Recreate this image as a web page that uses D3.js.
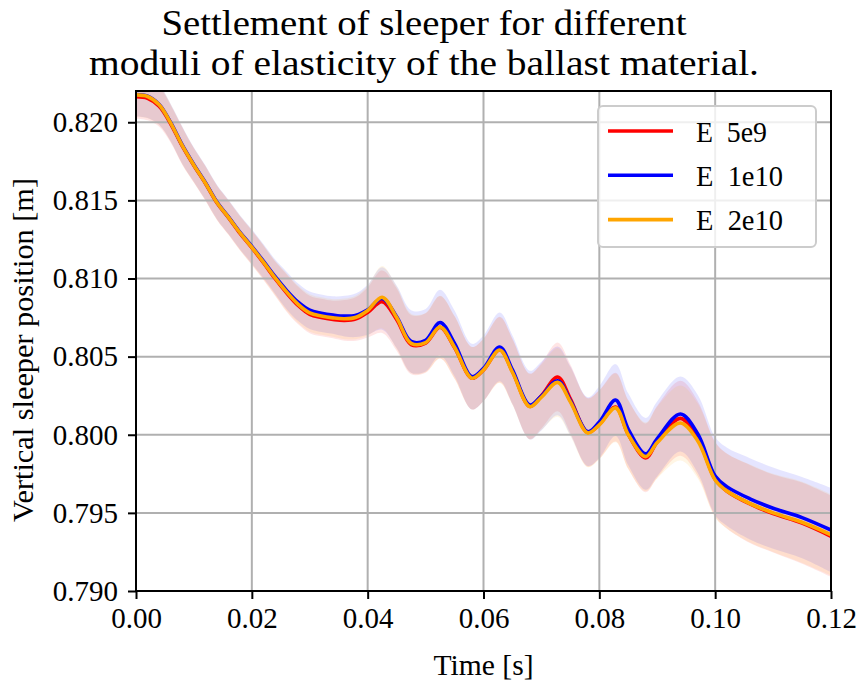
<!DOCTYPE html>
<html>
<head>
<meta charset="utf-8">
<script src="https://cdn.jsdelivr.net/npm/d3@7"></script>
<style>
  body { margin: 0; background: #fff; }
</style>
</head>
<body>
<div class="chart-container"></div>
<script>
// --------------------------------------------------------
// DATA
// --------------------------------------------------------
const time = [0.000, 0.002, 0.004, 0.006, 0.008, 0.010, 0.012, 0.014, 0.016, 0.018,
  0.020, 0.022, 0.024, 0.026, 0.028, 0.030, 0.032, 0.034, 0.036, 0.038,
  0.040, 0.0425, 0.045, 0.0475, 0.050, 0.0525, 0.055, 0.058, 0.060, 0.0628,
  0.065, 0.068, 0.070, 0.0728, 0.075, 0.078, 0.080, 0.0828, 0.085, 0.088,
  0.090, 0.094, 0.097, 0.100, 0.102, 0.106, 0.110, 0.115, 0.120];

// E = 5e9
const meanE5e9 = [0.82163, 0.82153, 0.82102, 0.81989, 0.81847, 0.81723, 0.81608, 0.81483, 0.81388, 0.81287,
  0.81197, 0.81101, 0.81000, 0.80908, 0.80827, 0.80770, 0.80750, 0.80738, 0.80732, 0.80742,
  0.80783, 0.80852, 0.80738, 0.80577, 0.80587, 0.80688, 0.80558, 0.80362, 0.80415, 0.80545,
  0.80405, 0.80182, 0.80250, 0.80370, 0.80230, 0.80015, 0.80066, 0.80177, 0.80002, 0.79852,
  0.79955, 0.80105, 0.79975, 0.79715, 0.79640, 0.79557, 0.79496, 0.79434, 0.79350];

// E = 1e10
const meanE1e10 = [0.82177, 0.82167, 0.82114, 0.81997, 0.81853, 0.81728, 0.81613, 0.81488, 0.81393, 0.81294,
  0.81205, 0.81111, 0.81013, 0.80924, 0.80848, 0.80797, 0.80778, 0.80766, 0.80759, 0.80765,
  0.80800, 0.80872, 0.80755, 0.80597, 0.80605, 0.80718, 0.80585, 0.80372, 0.80425, 0.80562,
  0.80415, 0.80190, 0.80248, 0.80345, 0.80218, 0.80020, 0.80081, 0.80222, 0.80035, 0.79878,
  0.79975, 0.80133, 0.80005, 0.79735, 0.79668, 0.79590, 0.79530, 0.79470, 0.79390];

// E = 2e10
const meanE2e10 = [0.82175, 0.82165, 0.82112, 0.81995, 0.81850, 0.81725, 0.81610, 0.81485, 0.81390, 0.81290,
  0.81200, 0.81105, 0.81005, 0.80914, 0.80835, 0.80780, 0.80760, 0.80748, 0.80742, 0.80752,
  0.80795, 0.80880, 0.80750, 0.80585, 0.80590, 0.80690, 0.80560, 0.80362, 0.80415, 0.80542,
  0.80400, 0.80180, 0.80240, 0.80335, 0.80210, 0.80012, 0.80063, 0.80172, 0.80000, 0.79860,
  0.79950, 0.80075, 0.79960, 0.79710, 0.79640, 0.79560, 0.79500, 0.79440, 0.79360];

// spread (half width of shaded band)
const stdE5e9 = [0.0014, 0.0014, 0.0013, 0.0012, 0.0012, 0.0011, 0.0011, 0.0011, 0.0011, 0.0011,
  0.0011, 0.0011, 0.0011, 0.0012, 0.0012, 0.0012, 0.0012, 0.0012, 0.0013, 0.0014,
  0.0016, 0.0020, 0.0020, 0.0019, 0.0019, 0.0020, 0.0020, 0.0020, 0.0020, 0.0021,
  0.0021, 0.0021, 0.0021, 0.0022, 0.0022, 0.0022, 0.0022, 0.0022, 0.0022, 0.0022,
  0.0023, 0.0024, 0.0024, 0.0024, 0.0024, 0.0025, 0.0025, 0.0026, 0.0026];
const stdE1e10 = [0.0014, 0.0014, 0.0013, 0.0012, 0.0012, 0.0011, 0.0011, 0.0011, 0.0011, 0.0011,
  0.0011, 0.0011, 0.0011, 0.0012, 0.0012, 0.0012, 0.0012, 0.0012, 0.0013, 0.0014,
  0.0016, 0.0020, 0.0020, 0.0020, 0.0020, 0.0021, 0.0021, 0.0021, 0.0021, 0.0022,
  0.0022, 0.0022, 0.0022, 0.0022, 0.0022, 0.0022, 0.0023, 0.0023, 0.0023, 0.0023,
  0.0024, 0.0024, 0.0025, 0.0025, 0.0025, 0.0026, 0.0026, 0.0026, 0.0027];
const stdE2e10 = [0.0014, 0.0014, 0.0013, 0.0012, 0.0012, 0.0011, 0.0011, 0.0011, 0.0011, 0.0011,
  0.0011, 0.0011, 0.0011, 0.0012, 0.0012, 0.0012, 0.0012, 0.0012, 0.0013, 0.0014,
  0.0016, 0.0020, 0.0020, 0.0019, 0.0019, 0.0020, 0.0020, 0.0020, 0.0020, 0.0021,
  0.0021, 0.0021, 0.0021, 0.0022, 0.0022, 0.0022, 0.0022, 0.0022, 0.0022, 0.0022,
  0.0023, 0.0024, 0.0024, 0.0024, 0.0024, 0.0025, 0.0025, 0.0026, 0.0026];

const seriesNames = ["E 5e9", "E 1e10", "E 2e10"];
const seriesColors = ["#ff0000", "#0000ff", "#ffa500"];
const seriesMeans = [meanE5e9, meanE1e10, meanE2e10];
const seriesStds = [stdE5e9, stdE1e10, stdE2e10];

const xTicks = [0.00, 0.02, 0.04, 0.06, 0.08, 0.10, 0.12];
const yTicks = [0.790, 0.795, 0.800, 0.805, 0.810, 0.815, 0.820];

const titleLines = ["Settlement of sleeper for different", "moduli of elasticity of the ballast material."];
const xLabel = "Time [s]";
const yLabel = "Vertical sleeper position [m]";

// --------------------------------------------------------
// LAYOUT
// --------------------------------------------------------
const width = 859;
const height = 684;
const margin = { top: 91, right: 28, bottom: 93, left: 136 };
const plotW = width - margin.left - margin.right;
const plotH = height - margin.top - margin.bottom;
const serif = '"Liberation Serif"';

const svg = d3.select(".chart-container")
  .append("svg")
  .attr("width", width)
  .attr("height", height)
  .attr("font-family", "Liberation Serif");

const x = d3.scaleLinear().domain([0, 0.12]).range([0, plotW]);
const y = d3.scaleLinear().domain([0.790, 0.822]).range([plotH, 0]);

const g = svg.append("g").attr("transform", `translate(${margin.left},${margin.top})`);

svg.append("defs").append("clipPath").attr("id", "plot-clip")
  .append("rect").attr("width", plotW).attr("height", plotH);

const series = seriesNames.map((name, i) => ({
  name,
  color: seriesColors[i],
  values: time.map((t, j) => ({ t, m: seriesMeans[i][j], s: seriesStds[i][j] }))
}));

const curve = d3.curveCatmullRom.alpha(0.5);

// shaded bands
const area = d3.area()
  .curve(curve)
  .x((d) => x(d.t))
  .y0((d) => y(d.m - d.s))
  .y1((d) => y(d.m + d.s));

g.append("g")
  .attr("clip-path", "url(#plot-clip)")
  .selectAll("path")
  .data(series)
  .join("path")
  .attr("d", (d) => area(d.values))
  .attr("fill", (d) => d.color)
  .attr("fill-opacity", 0.1)
  .attr("stroke", "none");

// grid
g.append("g")
  .selectAll("line")
  .data(xTicks)
  .join("line")
  .attr("x1", (d) => x(d)).attr("x2", (d) => x(d))
  .attr("y1", 0).attr("y2", plotH)
  .attr("stroke", "#b0b0b0").attr("stroke-width", 2);

g.append("g")
  .selectAll("line")
  .data(yTicks)
  .join("line")
  .attr("y1", (d) => y(d)).attr("y2", (d) => y(d))
  .attr("x1", 0).attr("x2", plotW)
  .attr("stroke", "#b0b0b0").attr("stroke-width", 2);

// mean lines
const line = d3.line()
  .curve(curve)
  .x((d) => x(d.t))
  .y((d) => y(d.m));

g.append("g")
  .attr("clip-path", "url(#plot-clip)")
  .selectAll("path")
  .data(series)
  .join("path")
  .attr("d", (d) => line(d.values))
  .attr("fill", "none")
  .attr("stroke", (d) => d.color)
  .attr("stroke-width", 3.6)
  .attr("stroke-linejoin", "round");

// axes
const xAxis = g.append("g")
  .attr("transform", `translate(0,${plotH})`)
  .call(d3.axisBottom(x).tickValues(xTicks).tickFormat(d3.format(".2f")).tickSize(8).tickPadding(8));

const yAxis = g.append("g")
  .call(d3.axisLeft(y).tickValues(yTicks).tickFormat(d3.format(".3f")).tickSize(8).tickPadding(10));

[xAxis, yAxis].forEach((ax) => {
  ax.attr("font-family", "Liberation Serif").attr("font-size", 29);
  ax.select(".domain").remove();
  ax.selectAll(".tick line").attr("stroke", "#000").attr("stroke-width", 2);
  ax.selectAll(".tick text")
    .style("font-family", serif)
    .style("font-size", "29px")
    .attr("fill", "#000");
});
xAxis.selectAll(".tick text").attr("dy", "0.72em");

// frame
g.append("rect")
  .attr("width", plotW).attr("height", plotH)
  .attr("fill", "none").attr("stroke", "#000").attr("stroke-width", 2);

// labels (widths stretched slightly to the reference's Computer Modern footprint)
svg.append("text")
  .attr("x", margin.left + plotW / 2)
  .attr("y", 675)
  .attr("text-anchor", "middle")
  .attr("textLength", 100)
  .attr("lengthAdjust", "spacingAndGlyphs")
  .style("font-family", serif)
  .style("font-size", "30px")
  .text(xLabel);

svg.append("text")
  .attr("transform", "translate(33,350) rotate(-90)")
  .attr("text-anchor", "middle")
  .attr("textLength", 344)
  .attr("lengthAdjust", "spacingAndGlyphs")
  .style("font-family", serif)
  .style("font-size", "30px")
  .text(yLabel);

const titleWidths = [525, 670];
svg.append("g")
  .selectAll("text")
  .data(titleLines)
  .join("text")
  .attr("x", 424)
  .attr("y", (d, i) => 35 + i * 40)
  .attr("text-anchor", "middle")
  .attr("textLength", (d, i) => titleWidths[i])
  .attr("lengthAdjust", "spacingAndGlyphs")
  .style("font-family", serif)
  .style("font-size", "35px")
  .text((d) => d);

// legend
const legend = svg.append("g").attr("transform", "translate(598,106)");
legend.append("rect")
  .attr("width", 218).attr("height", 141)
  .attr("rx", 5)
  .attr("fill", "#fff").attr("fill-opacity", 0.8)
  .attr("stroke", "#cccccc").attr("stroke-width", 2);

const legendWidths = [71, 87, 87];
const items = legend.selectAll("g.item")
  .data(series)
  .join("g")
  .attr("class", "item")
  .attr("transform", (d, i) => `translate(0,${25 + i * 44.3})`);

items.append("line")
  .attr("x1", 10).attr("x2", 75)
  .attr("stroke", (d) => d.color)
  .attr("stroke-width", 3.6);

items.append("text")
  .attr("x", 98)
  .attr("y", 10.5)
  .attr("textLength", (d, i) => legendWidths[i])
  .attr("lengthAdjust", "spacingAndGlyphs")
  .style("font-family", serif)
  .style("font-size", "29px")
  .style("white-space", "pre")
  .text((d) => d.name.replace(" ", "  "));
</script>
</body>
</html>
